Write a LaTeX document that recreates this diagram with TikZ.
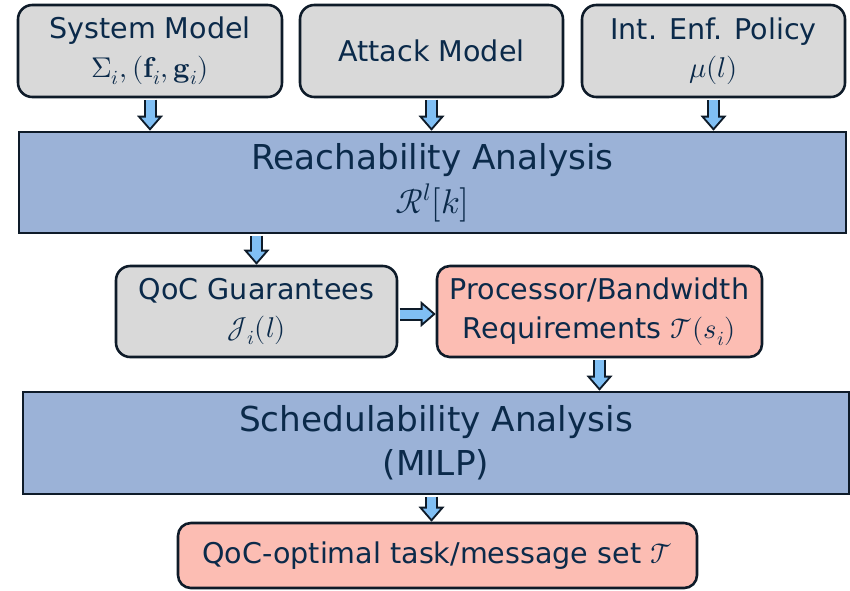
\documentclass[tikz,border=0pt]{standalone}
\usepackage{fontspec}
\usepackage{unicode-math}
\setmainfont{DejaVu Sans}
\setmathfont{Latin Modern Math}
\usetikzlibrary{arrows.meta}

\definecolor{ink}{HTML}{0B2A4A}
\definecolor{edge}{HTML}{0E1B29}
\definecolor{boxgrey}{HTML}{D9D9D9}
\definecolor{boxblue}{HTML}{9BB2D7}
\definecolor{boxpink}{HTML}{FCBDB3}
\definecolor{arrowblue}{HTML}{80BFF4}

\begin{document}
\begin{tikzpicture}[
    x=0.7pt, y=-0.7pt,
    box/.style={draw=edge, line width=1.8pt, text=ink, align=center, inner sep=0pt,
                font=\fontsize{20}{27}\selectfont},
    greybox/.style={box, fill=boxgrey, rounded corners=10pt},
    pinkbox/.style={box, fill=boxpink, rounded corners=9pt},
    bluebox/.style={box, fill=boxblue, font=\fontsize{24}{31}\selectfont},
    arr/.style={line width=6.3pt, draw=arrowblue, shorten <=0.9pt, shorten >=2.14pt,
                -{Triangle[length=6.96pt, width=12.07pt, line width=0pt]},
                preaction={draw=edge, line width=9.1pt, shorten >=0pt,
                           -{Triangle[length=10.5pt, width=18.2pt, line width=0pt]}}}
]
\useasboundingbox (0,0) rectangle (850,590);

% inputs
\node[greybox, minimum width=184.8pt, minimum height=64.4pt] (sys) at (150,51)
    {System Model\\$\Sigma_i,(\symbf{f}_i,\symbf{g}_i)$};
\node[greybox, minimum width=184.1pt, minimum height=64.4pt] (att) at (431.5,51)
    {Attack Model};
\node[greybox, minimum width=184.1pt, minimum height=64.4pt] (pol) at (713.5,51)
    {Int. Enf. Policy\\$\mu(l)$};

% analysis chain
\node[bluebox, minimum width=578.9pt, minimum height=70.7pt] (reach) at (432.5,182.5)
    {Reachability Analysis\\$\mathcal{R}^l[k]$};
\node[greybox, minimum width=196.7pt, minimum height=63.7pt] (qoc) at (256.5,311.5)
    {QoC Guarantees\\$\mathcal{J}_i(l)$};
\node[pinkbox, minimum width=227.5pt, minimum height=63.7pt] (proc) at (599.5,311.5)
    {Processor/Bandwidth\\Requirements $\mathcal{T}(s_i)$};
\node[bluebox, minimum width=578.2pt, minimum height=71.4pt] (sched) at (436,443)
    {Schedulability Analysis\\(MILP)};
\node[pinkbox, minimum width=363.3pt, minimum height=45.5pt] (out) at (437.5,555.5)
    {QoC-optimal task/message set $\mathcal{T}$};

\draw[arr] (sys.south) -- (sys.south |- reach.north);
\draw[arr] (att.south) -- (att.south |- reach.north);
\draw[arr] (pol.south) -- (pol.south |- reach.north);
\draw[arr] (qoc.north |- reach.south) -- (qoc.north);
\draw[arr] ([yshift=-1.75pt]qoc.east) -- ([yshift=-1.75pt]proc.west);
\draw[arr] (proc.south) -- (proc.south |- sched.north);
\draw[arr] (att.south |- sched.south) -- (att.south |- out.north);
\end{tikzpicture}
\end{document}
